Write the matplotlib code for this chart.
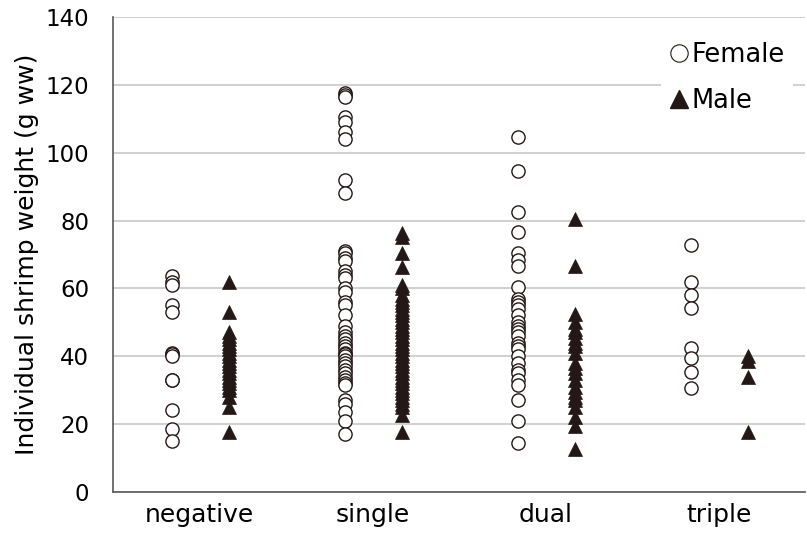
# Individual shrimp weight by infection category, female vs male
import numpy as np
import matplotlib.pyplot as plt
from matplotlib.lines import Line2D

plt.rcParams['font.family'] = ['DejaVu Sans']

categories = ["negative", "single", "dual", "triple"]

female_negative = [63.5, 62, 61, 55, 53, 41, 40.5, 40, 33, 33, 24, 18.5, 15]
male_negative = [62, 53, 47, 46, 45, 44, 43, 42, 41, 40, 39, 38, 37, 36, 35,
                 34, 33, 32, 31, 30, 28, 25, 17.7]

female_single = [117.5, 117, 116.5, 110.5, 109, 106, 104, 92, 88, 71, 70.5,
                 69, 68, 65, 64, 63, 60, 59, 56, 55, 52, 49, 47, 46, 45, 44,
                 43, 42, 41, 40.5, 40, 39, 38, 37, 36, 35, 34, 33, 32, 31.5,
                 27, 26, 23.5, 21, 17]
male_single = [76.3, 75, 70.4, 66.4, 61, 60, 58, 57, 56, 55, 54, 53, 52, 51,
               50, 49, 48, 47, 46, 45, 44, 43, 42, 41, 40, 39, 38, 37, 36, 35,
               34, 33, 32, 31, 30, 29, 28, 27, 26, 25, 22.7, 17.7]

female_dual = [104.5, 94.5, 82.5, 76.5, 70.5, 68.5, 66.5, 60.5, 57, 56, 55,
               54, 52, 50, 49, 48, 47, 46, 44, 43, 42, 40, 38, 36, 35, 33,
               31.5, 27, 21, 14.5]
male_dual = [80.5, 66.5, 52.5, 50, 48, 47, 45.5, 44, 43, 41, 38, 36.5, 35,
             33, 31, 29.5, 28, 27, 25, 22, 19.5, 12.5]

female_triple = [72.8, 62, 58, 54.2, 42.4, 39.5, 35.4, 30.6]
male_triple = [40, 38.5, 34, 17.7]

females = [female_negative, female_single, female_dual, female_triple]
males = [male_negative, male_single, male_dual, male_triple]

# Plot ......................................................................
fig = plt.figure(figsize=(8.07, 5.34), dpi=100)
ax = fig.add_axes([0.140, 0.079, 0.858, 0.889])

x = np.arange(len(categories))
for i in range(len(categories)):
    ax.plot(np.full(len(females[i]), x[i] - 0.16), females[i], "o",
            ms=9.5, mfc="white", mec="#231815", mew=1.0, zorder=3)
    ax.plot(np.full(len(males[i]), x[i] + 0.17), males[i], "^",
            ms=10.5, mfc="#231815", mec="#231815", mew=0.5, zorder=3)

ax.set_xlim(-0.5, 3.5)
ax.set_ylim(0, 140)
ax.set_yticks(np.arange(0, 141, 20))
ax.set_xticks(x)
ax.set_xticklabels(categories)
ax.tick_params(length=0)
ax.tick_params(axis="x", pad=8, labelsize=18)
ax.tick_params(axis="y", pad=17, labelsize=16.5)
ax.yaxis.grid(True, color="#c8c8c8", lw=1.2)
ax.set_axisbelow(True)

for s in ["top", "right"]:
    ax.spines[s].set_visible(False)
for s in ["left", "bottom"]:
    ax.spines[s].set_color("#595959")
    ax.spines[s].set_linewidth(1.2)

ax.set_ylabel("Individual shrimp weight (g ww)", fontsize=18, labelpad=5)

handles = [
    Line2D([], [], ls="none", marker="o", ms=12.5, mfc="white", mec="#231815", mew=0.8),
    Line2D([], [], ls="none", marker="^", ms=12.5, mfc="#231815", mec="#231815"),
]
leg = ax.legend(handles, ["Female", "Male"], loc="upper right",
                bbox_to_anchor=(1.0, 0.99), fontsize=18.5, frameon=True,
                edgecolor="none", facecolor="white", framealpha=1,
                handlelength=0.8, handletextpad=0.1, borderpad=0.3,
                labelspacing=0.75)

fig.savefig("out.png", dpi=100)
